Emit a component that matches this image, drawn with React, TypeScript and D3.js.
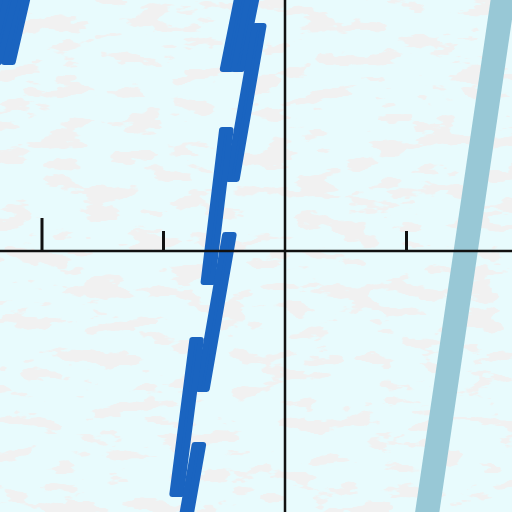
import React, { useEffect } from 'react';
import * as d3 from 'd3';

// axis ticks (data units)
const xTicks = [-2, -1, 1];

// dark series: overlapping stroke pieces, top end -> bottom end (data units)
const darkX0 = [-0.218, -0.128, -0.212, -0.483, -0.458, -0.728, -0.709, -1.992, -2.148, -2.082];
const darkY0 = [2.807, 2.807, 1.877, 1.021, 0.156, -0.708, -1.572, 2.807, 2.807, 2.807];
const darkX1 = [-0.477, -0.387, -0.432, -0.635, -0.679, -0.892, -0.931, -2.276, -2.321, -2.387];
const darkY1 = [1.473, 1.473, 0.568, -0.280, -1.160, -2.025, -2.872, 1.531, 1.942, 1.531];

// light series: straight line
const lightX = [1.816, 1.149];
const lightY = [2.230, -2.296];

const W = 512;
const H = 512;

const App: React.FC = () => {
    useEffect(() => {
        document.body.style.margin = '0';
    }, []);

    const x = d3.scaleLinear().domain([-285 / 121.5, (W - 285) / 121.5]).range([0, W]);
    const y = d3.scaleLinear().domain([(251 - H) / 121.5, 251 / 121.5]).range([H, 0]);

    const lightLine = d3.line<number>()
        .x((_, i) => x(lightX[i]))
        .y((_, i) => y(lightY[i]));

    // rounded parallelograms: inset by r, then stroked with 2r and round joins
    const bandW = 14.5;
    const r = 3;
    const pieces = darkX0.map((_, i) => {
        const tx = x(darkX0[i]), ty = y(darkY0[i]);
        const bx = x(darkX1[i]), by = y(darkY1[i]);
        const h = bandW / 2 - r;
        return `M${tx - h},${ty + r}L${tx + h},${ty + r}L${bx + h},${by - r}L${bx - h},${by - r}Z`;
    });

    const x0 = x(0);
    const y0 = y(0);

    return (
        <svg width={W} height={H} style={{ display: 'block' }}>
            <defs>
                <filter id="blobs" x="0" y="0" width="100%" height="100%">
                    <feTurbulence type="fractalNoise" baseFrequency="0.024 0.06" numOctaves={4} seed={11} />
                    <feColorMatrix type="matrix"
                        values="0 0 0 0 0.88  0 0 0 0 0.88  0 0 0 0 0.88  30 0 0 0 -17.2" />
                </filter>
            </defs>
            <rect width={W} height={H} fill="#e8fbfd" />
            <rect width={W} height={H} filter="url(#blobs)" />

            <path d={lightLine(lightX) ?? ''} fill="none" stroke="#98c8d6" strokeWidth={24} />

            {pieces.map((d, i) => (
                <path key={i} d={d} fill="#1a64c0" stroke="#1a64c0" strokeWidth={2 * r} strokeLinejoin="round" />
            ))}

            <line x1={0} x2={W} y1={y0} y2={y0} stroke="#111" strokeWidth={2.5} />
            <line x1={x0} x2={x0} y1={0} y2={H} stroke="#111" strokeWidth={2.5} />
            {xTicks.map(t => (
                <line key={t} x1={x(t)} x2={x(t)} y1={y0} y2={y0 - (t % 2 === 0 ? 33 : 20)}
                    stroke="#111" strokeWidth={3} />
            ))}
        </svg>
    );
};

export default App;
